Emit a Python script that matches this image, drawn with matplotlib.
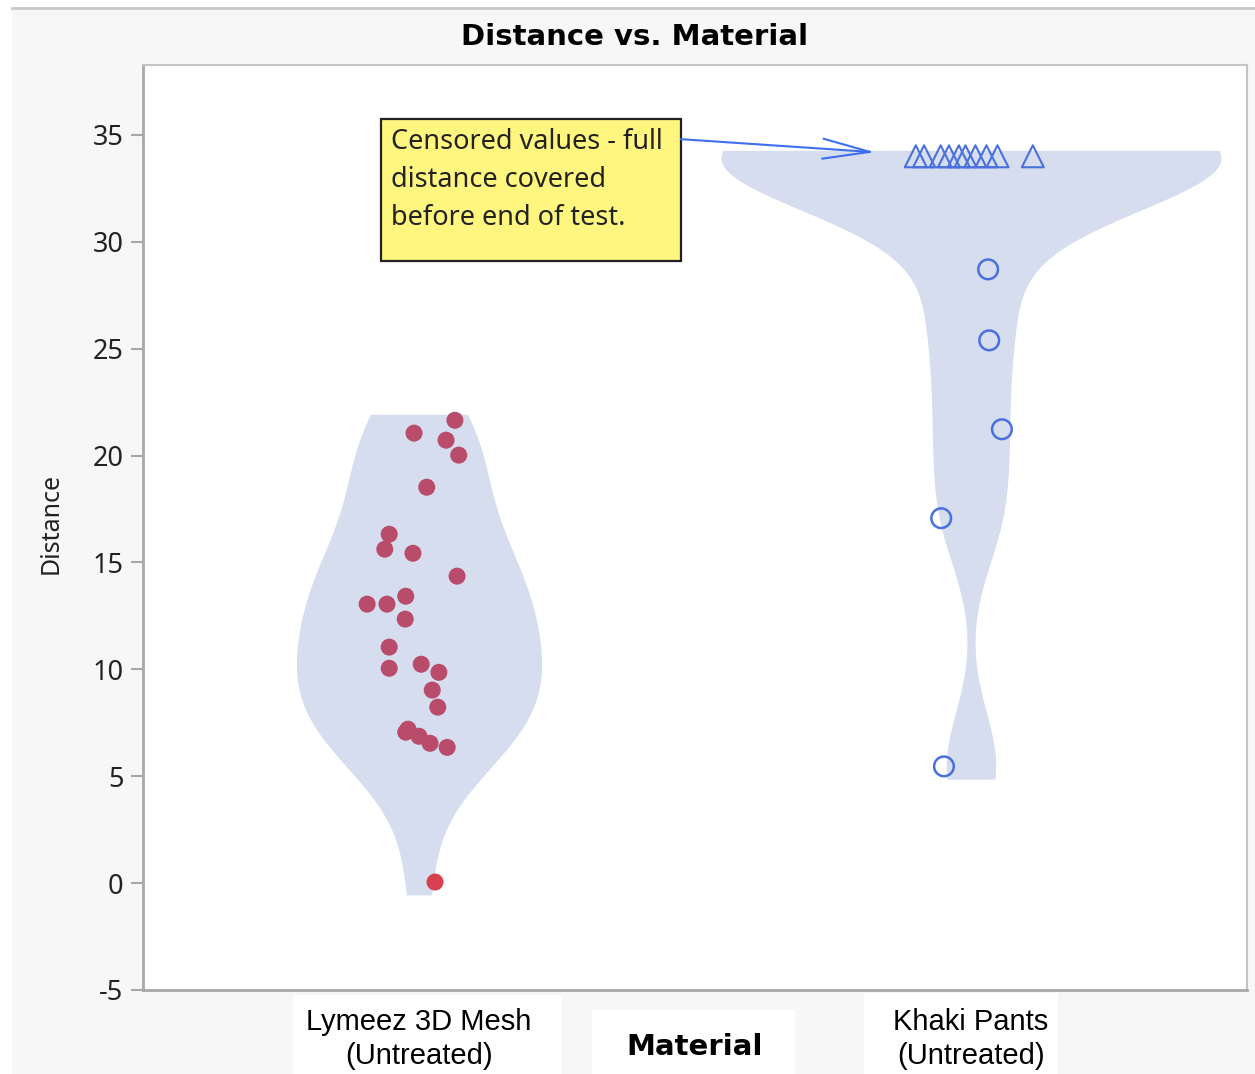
import numpy as np
import matplotlib
matplotlib.use("Agg")
import matplotlib.pyplot as plt
from matplotlib.patches import Rectangle
from matplotlib.lines import Line2D

# ---------------- data ----------------
categories = ["Lymeez 3D Mesh\n(Untreated)", "Khaki Pants\n(Untreated)"]
mesh_distance = [21.65, 21.05, 20.72, 20.02, 18.52, 16.32, 15.62, 15.43, 14.36,
                 13.42, 13.05, 13.05, 12.35, 11.04, 10.05, 10.24, 9.86, 9.03,
                 8.23, 7.20, 7.06, 6.87, 6.54, 6.35, 0.05]
mesh_jitter = [0.065, -0.009, 0.049, 0.072, 0.014, -0.054, -0.062, -0.011, 0.069,
               -0.024, -0.094, -0.058, -0.025, -0.054, -0.054, 0.004, 0.036, 0.024,
               0.034, -0.020, -0.024, 0.000, 0.020, 0.051, 0.029]
khaki_distance = [28.71, 25.39, 21.23, 17.07, 5.46]
khaki_jitter = [0.031, 0.033, 0.056, -0.054, -0.049]
khaki_censored = [34.0, 34.0, 34.0, 34.0, 34.0, 34.0, 34.0, 34.0, 34.0, 34.0]
khaki_censored_jitter = [-0.100, -0.085, -0.055, -0.040, -0.022, -0.010, 0.008,
                         0.028, 0.048, 0.112]
y_ticks = [-5, 0, 5, 10, 15, 20, 25, 30, 35]
title = "Distance vs. Material"
x_title = "Material"
y_title = "Distance"
note = "Censored values - full\ndistance covered\nbefore end of test."

# ---------------- fonts ----------------
bold_font = ["DejaVu Sans"]
ui = ["Noto Sans", "DejaVu Sans"]
arial = ["Liberation Sans", "DejaVu Sans"]

W, H = 1255, 1074
fig = plt.figure(figsize=(W / 100, H / 100), dpi=100, facecolor="white")


def fx(px):
    return px / W


def fy(py):
    return 1 - py / H


def fig_box(x0, y0, x1, y1, color, z):
    fig.add_artist(Rectangle((fx(x0), fy(y1)), fx(x1) - fx(x0), fy(y0) - fy(y1),
                             transform=fig.transFigure, facecolor=color,
                             edgecolor="none", zorder=z))


# grey panel background + top rule + white label panels
fig_box(12, 8, W, H, "#f7f7f7", -10)
fig.add_artist(Line2D([fx(12), 1], [fy(8), fy(8)], transform=fig.transFigure,
                      color="#c8c8c8", lw=2, zorder=-9))
fig_box(293, 995, 562, H, "white", -8)
fig_box(592, 1010, 795, H, "white", -8)
fig_box(864, 993, 1058, H, "white", -8)

ax = fig.add_axes([fx(143), fy(990), fx(1247) - fx(143), fy(65) - fy(990)])
ax.set_zorder(1)
ax.set_facecolor("white")
ax.set_xlim(-0.5, 1.5)
ax.set_ylim(-5, 38.27)

fill_color = "#d5ddee"


def violin_profile(vals, bw, lo_pad=0.6, hi_pad=0.28, n=500):
    v = np.asarray(vals, dtype=float)
    grid = np.linspace(v.min() - lo_pad, v.max() + hi_pad, n)
    dens = np.exp(-0.5 * ((grid[:, None] - v[None, :]) / bw) ** 2).sum(axis=1)
    return grid, dens / dens.max()


# left violin
g1, d1 = violin_profile(mesh_distance, 2.8)
w1 = 0.222
ax.fill_betweenx(g1, 0 - w1 * d1, 0 + w1 * d1, color=fill_color, lw=0, zorder=1)
# right violin
khaki_all = khaki_distance + khaki_censored
g2, d2 = violin_profile(khaki_all, 2.6)
w2 = 0.453
ax.fill_betweenx(g2, 1 - w2 * d2, 1 + w2 * d2, color=fill_color, lw=0, zorder=1)

# mesh points: colour depends on whether drawn over the violin fill
half_at = np.interp(mesh_distance, g1, w1 * d1, left=0, right=0)
mesh_cols = ["#b94c6b" if abs(j) < h else "#d9404f" for j, h in zip(mesh_jitter, half_at)]
ax.scatter(np.array(mesh_jitter) + 0, mesh_distance, s=150, c=mesh_cols,
           edgecolors="none", zorder=3)

blue = "#4a70de"
ax.scatter(np.array(khaki_jitter) + 1, khaki_distance, s=200, facecolors="none",
           edgecolors=blue, linewidths=1.8, zorder=3)
ax.scatter(np.array(khaki_censored_jitter) + 1, khaki_censored, s=250, marker="^",
           facecolors="none", edgecolors=blue, linewidths=1.5, zorder=3)

# axes styling
for side in ["left", "bottom"]:
    ax.spines[side].set_color("#a8a8a8")
    ax.spines[side].set_linewidth(2)
for side in ["top", "right"]:
    ax.spines[side].set_color("#c4c4c4")
    ax.spines[side].set_linewidth(1.5)
ax.set_yticks(y_ticks)
ax.set_yticklabels([str(t) for t in y_ticks], family=ui, fontsize=19.5, color="#222222")
ax.tick_params(axis="y", length=9, width=1.5, color="#a8a8a8", pad=5)
ax.set_xticks([0, 1])
ax.set_xticklabels(categories, family=arial, fontsize=21, color="black",
                   linespacing=1.25)
ax.tick_params(axis="x", length=0, pad=13)

ax.set_xlabel(x_title, family=bold_font, fontweight="bold", fontsize=21, va="center")
ax.xaxis.set_label_coords(0.5, -(1047 - 990) / 925)

fig.text(fx(51), fy(523), y_title, rotation=90, ha="center", va="center",
         family=ui, fontsize=18, color="#222222")
fig.text(fx(635), fy(37), title, ha="center", va="center", family=bold_font,
         fontweight="bold", fontsize=21, color="black")

# annotation note box
x0, x1 = (381 - 143) / 1104, (681 - 143) / 1104
y0, y1 = 1 - (261 - 65) / 925, 1 - (119 - 65) / 925
ax.add_patch(Rectangle((x0, y0), x1 - x0, y1 - y0, transform=ax.transAxes,
                       facecolor="#fff680", edgecolor="#222222", lw=1.6, zorder=4))
ax.text(x0 + 10 / 1104, y1 - 9 / 925, note, transform=ax.transAxes, ha="left", va="top",
        family=ui, fontsize=19.5, color="#222222", linespacing=1.47, zorder=5)
ax.annotate("", xy=(0.826, 34.19), xytext=(0.4746, 34.8),
            arrowprops=dict(arrowstyle="->,head_length=1.7,head_width=0.36",
                            color="#3f6ff0", lw=1.5, mutation_scale=20,
                            shrinkA=0, shrinkB=0), zorder=5)

fig.savefig("out.png", dpi=100, facecolor=fig.get_facecolor())
